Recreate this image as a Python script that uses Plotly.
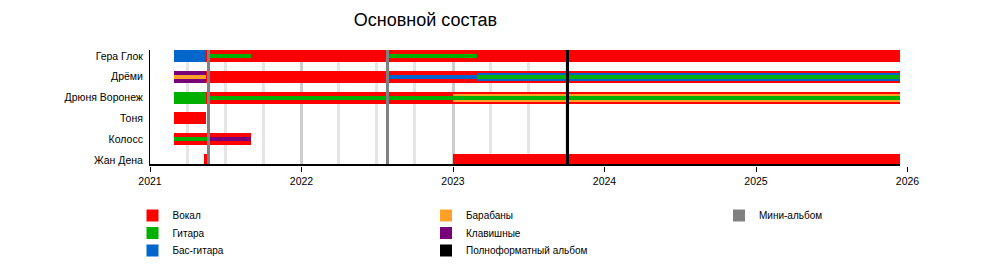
import datetime as dt
import plotly.graph_objects as go

# ---------------- data ----------------
title_text = "Основной состав"
members = ["Гера Глок", "Дрёми", "Дрюня Воронеж", "Тоня", "Колосс", "Жан Дена"]

END = "2025-12-15"          # "present"
axis_start_year = 2021
year_ticks = [2021, 2022, 2023, 2024, 2025, 2026]

# role periods: (member, start, end, rank)  rank 0 = main role, 1 = second, 2 = third
vocals = [
    ("Гера Глок", "2021-05-15", END, 0),
    ("Дрёми", "2021-05-15", END, 0),
    ("Дрюня Воронеж", "2021-05-15", END, 0),
    ("Тоня", "2021-03-01", "2021-05-15", 0),
    ("Колосс", "2021-03-01", "2021-09-01", 0),
    ("Жан Дена", "2021-05-12", "2021-05-22", 0),
    ("Жан Дена", "2023-01-01", END, 0),
]
keyboards = [
    ("Дрёми", "2021-03-01", "2021-05-15", 0),
    ("Колосс", "2021-05-22", "2021-09-01", 2),
]
bass = [
    ("Гера Глок", "2021-03-01", "2021-05-15", 0),
    ("Дрёми", "2022-07-28", "2023-02-28", 2),
    ("Дрёми", "2023-02-28", END, 1),
]
drums = [
    ("Дрёми", "2021-03-01", "2021-05-15", 2),
    ("Дрюня Воронеж", "2023-01-01", END, 1),
]
guitar = [
    ("Гера Глок", "2021-05-22", "2021-09-01", 2),
    ("Гера Глок", "2022-07-28", "2023-02-28", 2),
    ("Дрёми", "2023-02-28", END, 2),
    ("Дрюня Воронеж", "2021-03-01", "2021-05-15", 0),
    ("Дрюня Воронеж", "2021-05-22", END, 2),
    ("Колосс", "2021-03-01", "2021-05-22", 2),
]
mini_albums = ["2021-05-22", "2022-07-28"]
full_albums = ["2023-10-04"]

minor_grid = ["2021-04-01", "2021-07-01", "2021-10-01", "2022-04-01", "2022-07-01",
              "2022-10-01", "2023-04-01", "2023-07-01", "2023-10-01"]
major_grid = ["2022-01-01", "2023-01-01"]

# ---------------- styles ----------------
FONT = "Liberation Sans, Arial, sans-serif"
C_VOC, C_GTR, C_BASS = "#FF0000", "#00B000", "#0066CC"
C_DRUM, C_KEYS = "#FFA028", "#780078"
C_MINI, C_FULL = "#808080", "#000000"

W, H = 1000, 275
ML, MR, MT, MB = 150, 50, 50, 109
plot_w = W - ML - MR
plot_h = H - MT - MB
px_per_year = 151.5
row_px = 20.8
bar_px = {0: 12, 1: 8, 2: 4}
line_px = 3
axis_line_px = 1.3


def dec_year(s):
    d = dt.date.fromisoformat(s)
    y0 = dt.date(d.year, 1, 1)
    n = (dt.date(d.year + 1, 1, 1) - y0).days
    return d.year + (d - y0).days / n


n = len(members)
ypos = {m: n - i for i, m in enumerate(members)}
half_span = plot_h / row_px / 2
ymid = (n + 1) / 2
ymin, ymax = ymid - half_span, ymid + half_span

end_year = dec_year(END)
d2 = (year_ticks[-1] - axis_start_year) * px_per_year / plot_w

fig = go.Figure()


def vline_trace(name, dates, color, legend=None, show=False):
    lw = line_px / px_per_year
    fig.add_trace(go.Bar(
        orientation="h",
        name=name,
        y=[ymid] * len(dates),
        base=[dec_year(s) - lw / 2 for s in dates],
        x=[lw] * len(dates),
        width=[ymax - ymin] * len(dates),
        marker=dict(color=color, line=dict(width=0)),
        showlegend=show,
        legend=legend or "legend",
        hoverinfo="name" if show else "skip",
    ))


vline_trace("grid-minor", minor_grid, "#E5E5E5")
vline_trace("grid-major", major_grid, "#CCCCCC")


def role_trace(name, periods, color, legend):
    fig.add_trace(go.Bar(
        orientation="h",
        name=name,
        y=[ypos[p[0]] for p in periods],
        base=[dec_year(p[1]) for p in periods],
        x=[dec_year(p[2]) - dec_year(p[1]) for p in periods],
        width=[bar_px[p[3]] / row_px for p in periods],
        marker=dict(color=color, line=dict(width=0)),
        legend=legend,
        hoverinfo="name",
    ))


role_trace("Вокал", vocals, C_VOC, "legend")
role_trace("Клавишные", keyboards, C_KEYS, "legend5")
role_trace("Бас-гитара", bass, C_BASS, "legend3")
role_trace("Барабаны", drums, C_DRUM, "legend4")
role_trace("Гитара", guitar, C_GTR, "legend2")

vline_trace("Полноформатный альбом", full_albums, C_FULL, "legend6", True)
vline_trace("Мини-альбом", mini_albums, C_MINI, "legend7", True)

# x-axis base line: runs from the start of the scale to the end of the period
al = axis_line_px / row_px
fig.add_trace(go.Bar(
    orientation="h", y=[ymin + al / 2], base=[axis_start_year],
    x=[end_year - axis_start_year], width=[al],
    marker=dict(color="#000", line=dict(width=0)), showlegend=False, hoverinfo="skip",
))


def px_x(px):
    return (px - ML) / plot_w


def px_y(py):
    return (H - MB - py) / plot_h


leg_common = dict(orientation="v", xref="paper", yref="paper", xanchor="left",
                  yanchor="top", font=dict(family=FONT, size=10, color="#000"),
                  bgcolor="rgba(0,0,0,0)", borderwidth=0)
col_x = [132.5, 426, 719]
row_top = [201, 218.5, 236]
legend_slots = {
    "legend": (0, 0), "legend2": (0, 1), "legend3": (0, 2),
    "legend4": (1, 0), "legend5": (1, 1), "legend6": (1, 2),
    "legend7": (2, 0),
}
legends = {k: dict(x=px_x(col_x[c]), y=px_y(row_top[r]), **leg_common)
           for k, (c, r) in legend_slots.items()}

fig.update_layout(
    width=W, height=H,
    margin=dict(l=ML, r=MR, t=MT, b=MB, pad=0, autoexpand=False),
    paper_bgcolor="white", plot_bgcolor="white",
    barmode="overlay",
    bargap=0,
    font=dict(family=FONT, size=10.5, color="#000"),
    title=dict(text=title_text, x=425.5 / W, xref="container", xanchor="center",
               y=1 - 19.5 / H, yref="container", yanchor="middle",
               font=dict(family=FONT, size=18, color="#000")),
    xaxis=dict(range=[year_ticks[0], year_ticks[-1]], domain=[0, d2], showline=False,
               ticks="outside", ticklen=5, tickwidth=1, tickcolor="#000",
               tickvals=year_ticks, ticktext=[str(y) for y in year_ticks], tickangle=0,
               showgrid=False, zeroline=False, automargin=False,
               tickfont=dict(family=FONT, size=10.5, color="#000")),
    yaxis=dict(range=[ymin, ymax], tickvals=[ypos[m] for m in members], ticktext=members,
               showline=True, linecolor="#000", linewidth=1, ticks="", showgrid=False,
               zeroline=False, ticklabelstandoff=4, automargin=False,
               tickfont=dict(family=FONT, size=10.5, color="#000")),
    showlegend=True,
    **legends,
)

fig.write_html("out.html")
